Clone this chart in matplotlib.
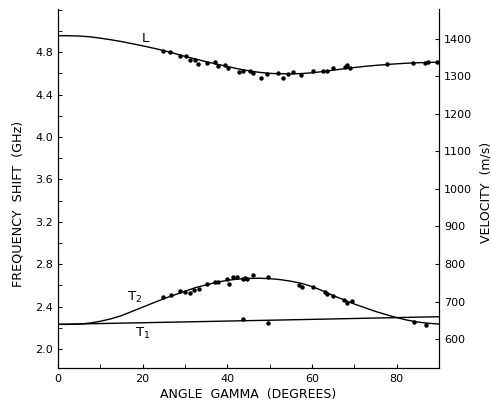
import numpy as np
import matplotlib.pyplot as plt
from matplotlib.ticker import MultipleLocator

plt.rcParams['font.family'] = ['DejaVu Sans']

# theory curves (angle in degrees, shift in GHz)
ang_curve = [0, 2.5, 5, 7.5, 10, 12.5, 15, 17.5, 20, 22.5, 25, 27.5, 30, 32.5, 35,
             37.5, 40, 42.5, 45, 47.5, 50, 52.5, 55, 57.5, 60, 62.5, 65, 67.5, 70,
             72.5, 75, 77.5, 80, 82.5, 85, 87.5, 90]
L_curve = [4.955, 4.955, 4.952, 4.945, 4.932, 4.917, 4.90, 4.88, 4.86, 4.838,
           4.815, 4.788, 4.76, 4.735, 4.71, 4.687, 4.665, 4.643, 4.625, 4.61,
           4.60, 4.596, 4.595, 4.598, 4.605, 4.617, 4.63, 4.643, 4.655, 4.666,
           4.675, 4.683, 4.69, 4.696, 4.70, 4.703, 4.705]
T2_curve = [2.233, 2.233, 2.235, 2.245, 2.262, 2.285, 2.315, 2.355, 2.395, 2.435,
            2.475, 2.51, 2.545, 2.58, 2.605, 2.63, 2.648, 2.66, 2.666, 2.668,
            2.664, 2.655, 2.64, 2.62, 2.59, 2.55, 2.505, 2.465, 2.425, 2.39,
            2.355, 2.325, 2.297, 2.273, 2.255, 2.243, 2.236]
T1_ang = [0, 30, 60, 90]
T1_curve = [2.233, 2.256, 2.28, 2.305]

# measured points
L_ang = [24.8, 26.5, 28.8, 30.3, 31.2, 32.4, 33.1, 35.2, 37.1, 37.8, 39.5, 40.2,
         42.8, 43.7, 45.4, 46.1, 48.0, 49.4, 52.0, 53.2, 54.4, 55.6, 57.4, 60.3,
         62.6, 63.6, 65.0, 67.8, 68.3, 69.0, 77.8, 83.9, 86.8, 87.5, 89.6]
L_meas = [4.81, 4.80, 4.76, 4.76, 4.73, 4.73, 4.69, 4.70, 4.71, 4.67, 4.68, 4.65,
          4.61, 4.62, 4.62, 4.60, 4.555, 4.59, 4.60, 4.56, 4.59, 4.61, 4.58, 4.62,
          4.62, 4.62, 4.65, 4.66, 4.68, 4.65, 4.69, 4.70, 4.70, 4.705, 4.705]
T2_ang = [24.8, 26.7, 28.8, 30.0, 31.2, 32.2, 33.4, 35.2, 37.1, 37.8, 39.9, 40.4,
          41.4, 42.4, 43.7, 44.2, 44.7, 46.1, 49.6, 57.0, 57.7, 60.3, 63.1, 63.6,
          65.0, 67.6, 68.3, 69.5, 84.2, 87.0]
T2_meas = [2.49, 2.51, 2.55, 2.54, 2.53, 2.56, 2.57, 2.61, 2.63, 2.63, 2.66, 2.61,
           2.68, 2.68, 2.66, 2.67, 2.66, 2.70, 2.68, 2.60, 2.585, 2.585, 2.54, 2.52,
           2.50, 2.46, 2.43, 2.45, 2.255, 2.225]
T1_ang_meas = [43.7, 49.6]
T1_meas = [2.28, 2.245]

fig = plt.figure(figsize=(4.91, 4.04), dpi=100)
ax = fig.add_axes([0.118, 0.089, 0.776, 0.889])

ax.plot(ang_curve, L_curve, color='black', lw=1.0)
ax.plot(ang_curve, T2_curve, color='black', lw=1.0)
ax.plot(T1_ang, T1_curve, color='black', lw=1.0)
for a, f in [(L_ang, L_meas), (T2_ang, T2_meas), (T1_ang_meas, T1_meas)]:
    ax.plot(a, f, 'o', color='black', ms=3.2, mec='none')

ax.text(20.6, 4.93, 'L', fontsize=9.5, ha='center', va='center')
ax.text(18.2, 2.49, 'T$_2$', fontsize=9.5, ha='center', va='center')
ax.text(20.1, 2.15, 'T$_1$', fontsize=9.5, ha='center', va='center')

ax.set_xlim(0, 90)
ax.set_ylim(1.821, 5.208)
ax.xaxis.set_major_locator(MultipleLocator(20))
ax.xaxis.set_minor_locator(MultipleLocator(10))
ax.set_yticks([2.0, 2.4, 2.8, 3.2, 3.6, 4.0, 4.4, 4.8])
ax.yaxis.set_minor_locator(MultipleLocator(0.2))
ax.tick_params(which='both', direction='in', length=3, labelsize=8)
ax.tick_params(axis='x', pad=4)
ax.spines['top'].set_visible(False)
ax.set_xlabel('ANGLE  GAMMA  (DEGREES)', fontsize=9, labelpad=3)
ax.set_ylabel('FREQUENCY  SHIFT  (GHz)', fontsize=9.2)
ax.yaxis.set_label_coords(-0.087, 0.457)

ax2 = ax.twinx()
ax2.set_ylim(522.7, 1480)
ax2.set_yticks(np.arange(600, 1401, 100))
ax2.tick_params(direction='in', length=3, labelsize=8)
ax2.spines['top'].set_visible(False)
ax2.set_ylabel('VELOCITY  (m/s)', fontsize=9)
ax2.yaxis.set_label_coords(1.106, 0.49)

fig.savefig('out.png', dpi=100)
